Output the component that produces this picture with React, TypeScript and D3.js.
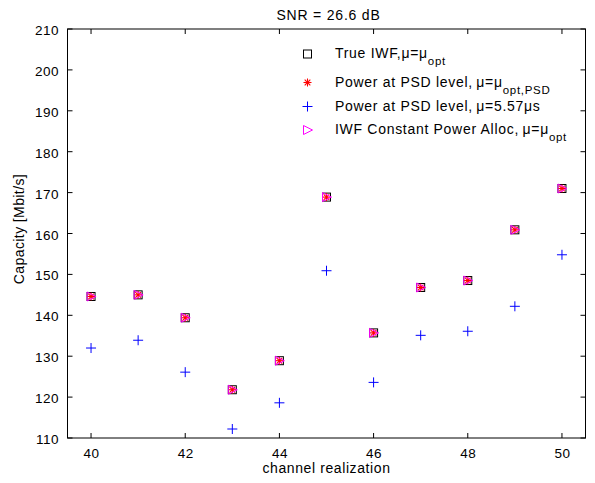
import React from "react";
import * as d3 from "d3";

const channels = [40, 41, 42, 43, 44, 45, 46, 47, 48, 49, 50];
const trueIWF = [144.6, 145.0, 139.4, 121.8, 128.9, 168.9, 135.7, 146.8, 148.5, 160.9, 171.0];
const psdOpt = [144.6, 145.0, 139.4, 121.8, 128.9, 168.9, 135.7, 146.8, 148.5, 160.9, 171.0];
const psdFixed = [132.0, 133.9, 126.1, 112.2, 118.6, 150.9, 123.6, 135.1, 136.1, 142.2, 154.8];
const iwfConst = [144.6, 145.0, 139.4, 121.8, 128.9, 168.9, 135.7, 146.8, 148.5, 160.9, 171.0];
const xTicks = [40, 42, 44, 46, 48, 50];
const yTicks = [110, 120, 130, 140, 150, 160, 170, 180, 190, 200, 210];

const W = 595, H = 483;
const L = 67.5, R = 585.5, T = 29, B = 438;
const FONT = "'Liberation Sans', Arial, Helvetica, sans-serif";

const x = d3.scaleLinear().domain([39.5, 50.5]).range([L, R]);
const y = d3.scaleLinear().domain([110, 210]).range([B, T]);

const Square = ({ cx, cy }: { cx: number; cy: number }) => (
  <rect x={cx - 4} y={cy - 4} width={8} height={8} fill="none" stroke="#000" strokeWidth={1} />
);
const Star = ({ cx, cy }: { cx: number; cy: number }) => {
  const r = 4;
  const d = r * 0.707;
  return (
    <g stroke="#ff0000" strokeWidth={1.1}>
      <line x1={cx - r} y1={cy} x2={cx + r} y2={cy} />
      <line x1={cx} y1={cy - r} x2={cx} y2={cy + r} />
      <line x1={cx - d} y1={cy - d} x2={cx + d} y2={cy + d} />
      <line x1={cx - d} y1={cy + d} x2={cx + d} y2={cy - d} />
    </g>
  );
};
const Plus = ({ cx, cy }: { cx: number; cy: number }) => (
  <g stroke="#0000ff" strokeWidth={1}>
    <line x1={cx - 5} y1={cy} x2={cx + 5} y2={cy} />
    <line x1={cx} y1={cy - 5} x2={cx} y2={cy + 5} />
  </g>
);
const Tri = ({ cx, cy }: { cx: number; cy: number }) => (
  <path
    d={`M${cx - 4},${cy - 4.5}L${cx + 5},${cy}L${cx - 4},${cy + 4.5}Z`}
    fill="none"
    stroke="#ff00ff"
    strokeWidth={1}
  />
);

const legend = [
  { M: Square, main: "True IWF,\u03bc=\u03bc", sub: "opt" },
  { M: Star, main: "Power at PSD level,\u2009\u03bc=\u03bc", sub: "opt,PSD" },
  { M: Plus, main: "Power at PSD level,\u2009\u03bc=5.57\u03bcs", sub: "" },
  { M: Tri, main: "IWF Constant Power Alloc,\u2009\u03bc=\u03bc", sub: "opt" },
];
const legendY = [54, 82.5, 106.5, 130];

export default function App() {
  const tk = 5;
  return (
    <svg width={W} height={H} style={{ position: "absolute", left: 0, top: 0, background: "#fff" }} fontFamily={FONT}>
      <rect x={0} y={0} width={W} height={H} fill="#fff" />
      <text x={(L + R) / 2 + 2} y={20} textAnchor="middle" fontSize={14} letterSpacing={0.8}>SNR = 26.6 dB</text>
      <rect x={L} y={T} width={R - L} height={B - T} fill="none" stroke="#000" strokeWidth={1} />
      {xTicks.map((t) => (
        <g key={"x" + t}>
          <line x1={x(t)} x2={x(t)} y1={B} y2={B - tk} stroke="#000" />
          <line x1={x(t)} x2={x(t)} y1={T} y2={T + tk} stroke="#000" />
          <text x={x(t) + 0.5} y={B + 20} textAnchor="middle" fontSize={13.5} letterSpacing={0.5}>{t}</text>
        </g>
      ))}
      {yTicks.map((t) => (
        <g key={"y" + t}>
          <line x1={L} x2={L + tk} y1={y(t)} y2={y(t)} stroke="#000" />
          <line x1={R} x2={R - tk} y1={y(t)} y2={y(t)} stroke="#000" />
          <text x={L - 8.5} y={y(t) + 6} textAnchor="end" fontSize={13.5} letterSpacing={0.5}>{t}</text>
        </g>
      ))}
      <text x={(L + R) / 2} y={473} textAnchor="middle" fontSize={14} letterSpacing={0.6}>channel realization</text>
      <text transform={`translate(24,229) rotate(-90)`} textAnchor="middle" fontSize={14} letterSpacing={0.4}>Capacity [Mbit/s]</text>

      {channels.map((c, i) => <Square key={"s" + c} cx={x(c)} cy={y(trueIWF[i])} />)}
      {channels.map((c, i) => <Star key={"r" + c} cx={x(c)} cy={y(psdOpt[i])} />)}
      {channels.map((c, i) => <Plus key={"p" + c} cx={x(c)} cy={y(psdFixed[i])} />)}
      {channels.map((c, i) => <Tri key={"t" + c} cx={x(c)} cy={y(iwfConst[i])} />)}

      {legend.map((l, i) => (
        <g key={"l" + i}>
          <l.M cx={307.5} cy={legendY[i]} />
          <text x={335} y={legendY[i] + 4} fontSize={14} letterSpacing={0.7}>
            {l.main}
            {l.sub && <tspan dy={7} fontSize={11.5}>{l.sub}</tspan>}
          </text>
        </g>
      ))}
    </svg>
  );
}
